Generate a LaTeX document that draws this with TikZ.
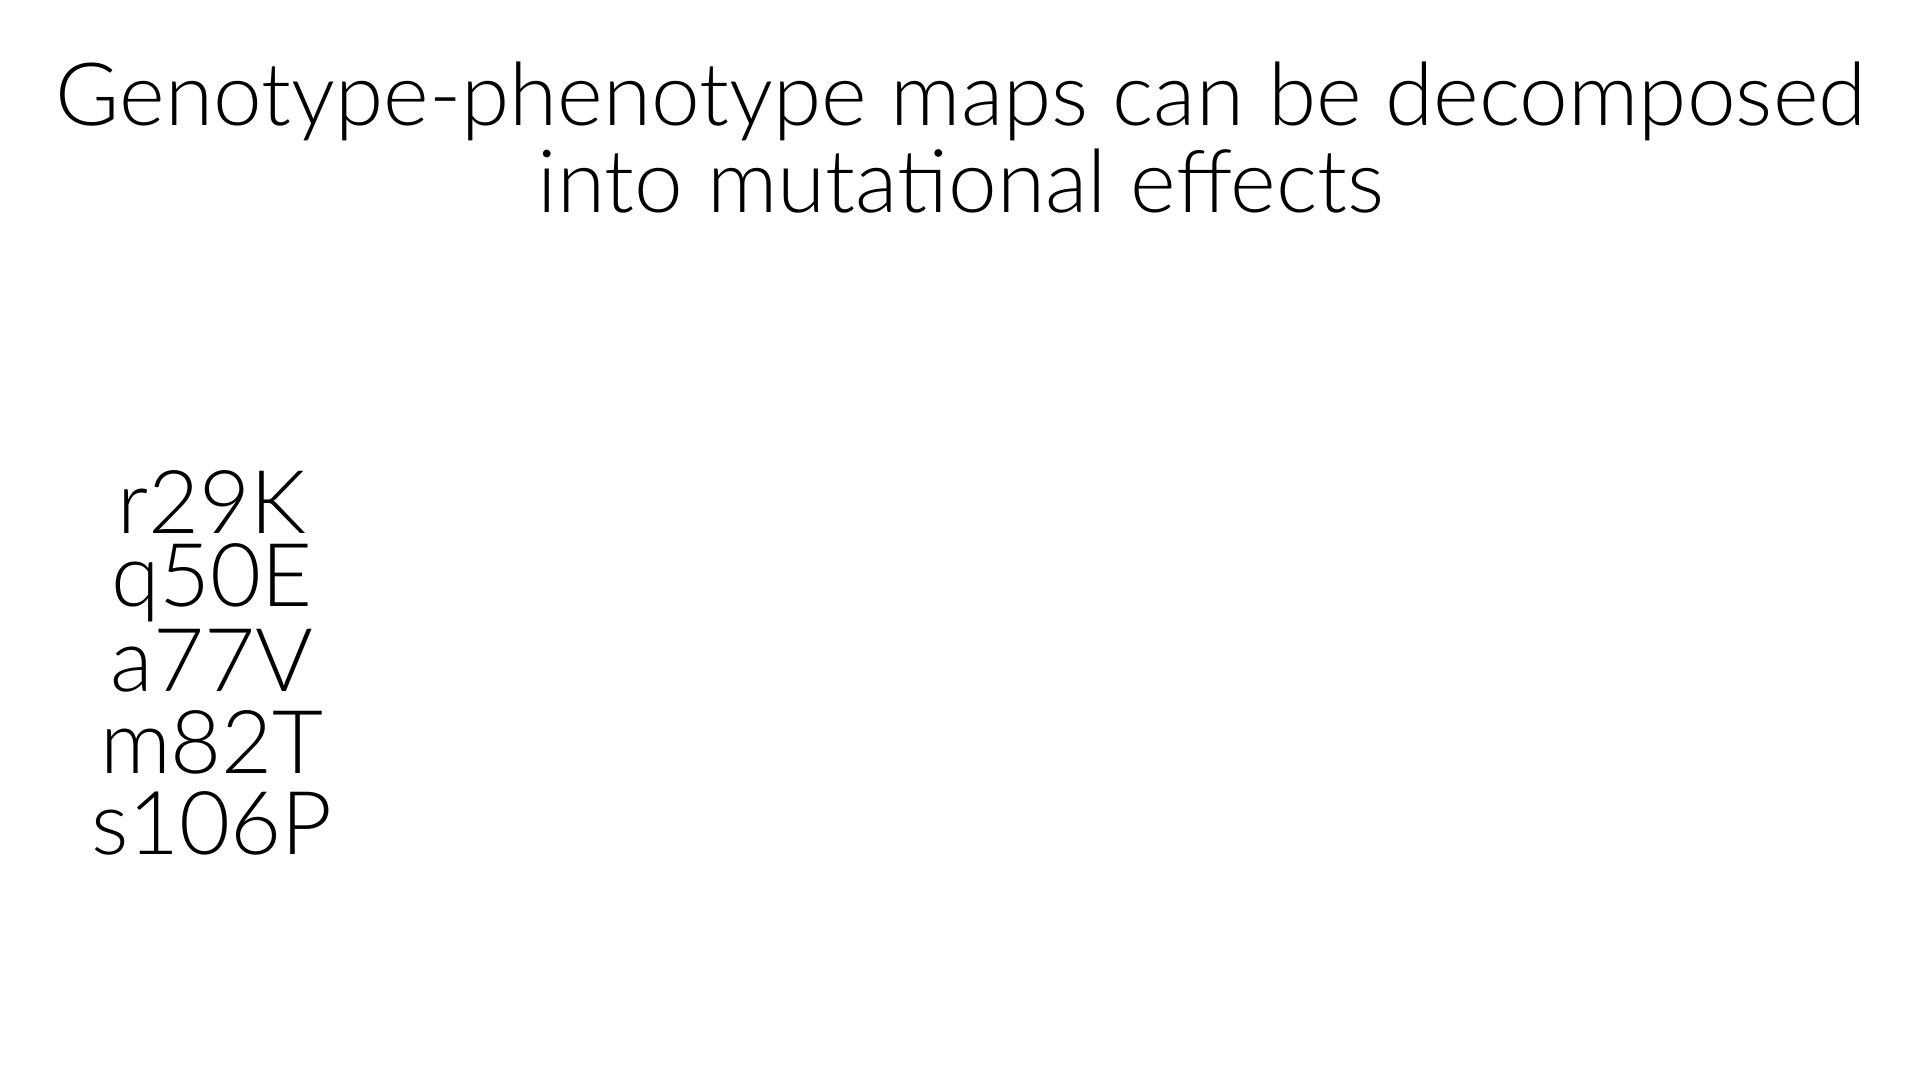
\documentclass[tikz,border=0pt]{standalone}
\usepackage{fontspec}
\setmainfont{Lato}[UprightFont=* Light]
\begin{document}
\begin{tikzpicture}[x=1pt,y=1pt]
\tikzset{
  titletext/.style={font=\fontsize{87.4}{88}\selectfont, anchor=base, inner sep=0pt},
  muttext/.style={font=\fontsize{88}{88}\selectfont, anchor=base, inner sep=0pt}
}
\useasboundingbox (0,0) rectangle (1920,1080);
\node[titletext] (t1) at (961,954) {Genotype-phenotype maps can be decomposed};
\node[titletext] (t2) at (961,867) {into mutational effects};
\node[muttext] (m1) at (212,546) {r29K};
\node[muttext] (m2) at (212,473) {q50E};
\node[muttext] (m3) at (212,388) {a77V};
\node[muttext] (m4) at (212,306) {m82T};
\node[muttext] (m5) at (212,226) {s106P};
\end{tikzpicture}
\end{document}
